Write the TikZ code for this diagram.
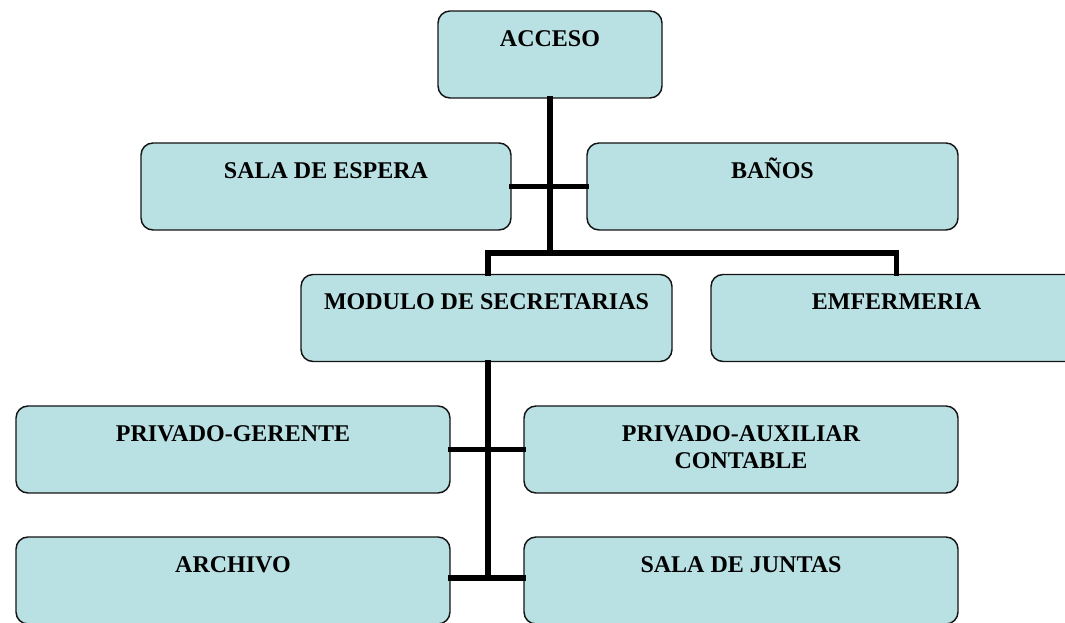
\documentclass[tikz,border=0pt]{standalone}
\usepackage{fontspec}
\setmainfont{Liberation Serif}
\definecolor{boxfill}{RGB}{185,224,227}
\definecolor{boxline}{RGB}{20,20,20}
\begin{document}
\begin{tikzpicture}[x=0.75pt,y=-0.75pt,
  box/.style={draw=boxline,line width=1.1pt,fill=boxfill,rounded corners=9pt,
    minimum height=87*0.75pt,inner sep=0pt},
  lbl/.style={font=\bfseries\fontsize{18}{20.25}\selectfont,align=center,anchor=base,inner sep=0pt},
  conn/.style={line width=3.9pt,line cap=rect}]
\useasboundingbox (0,0) rectangle (1065,623);
\begin{scope}
\clip (0,0) rectangle (1065,623);
\node[box,minimum width=224*0.75pt] (acceso) at (550,54.5) {};
\node[box,minimum width=370*0.75pt] (sala) at (326,186.5) {};
\node[box,minimum width=371*0.75pt] (banos) at (772.5,186.5) {};
\node[box,minimum width=371*0.75pt] (modulo) at (486.5,318) {};
\node[box,minimum width=371*0.75pt] (emf) at (896.5,318) {};
\node[box,minimum width=434*0.75pt] (gerente) at (233,449.5) {};
\node[box,minimum width=434*0.75pt] (aux) at (741,449.5) {};
\node[box,minimum width=434*0.75pt] (archivo) at (233,580.5) {};
\node[box,minimum width=434*0.75pt] (juntas) at (741,580.5) {};
\coordinate (bus) at (550,253);
\coordinate (low) at (488,578);
\draw[conn] (acceso.south) -- (bus);
\draw[conn] (sala.east) -- (banos.west);
\draw[conn] (modulo.north -| low) |- (bus) -| (emf.north);
\draw[conn] (modulo.south -| low) -- (low);
\draw[conn] (gerente.east) -- (aux.west);
\draw[conn] (archivo.east |- low) -- (juntas.west |- low);
\node[lbl] (tacceso) at ([yshift=-36*0.75pt]acceso.north) {ACCESO};
\node[lbl] (tsala) at ([yshift=-36*0.75pt]sala.north) {SALA DE ESPERA};
\node[lbl] (tbanos) at ([yshift=-36*0.75pt]banos.north) {BAÑOS};
\node[lbl] (tmodulo) at ([yshift=-36*0.75pt]modulo.north) {MODULO DE SECRETARIAS};
\node[lbl] (temf) at ([yshift=-36*0.75pt]emf.north) {EMFERMERIA};
\node[lbl] (tgerente) at ([yshift=-36*0.75pt]gerente.north) {PRIVADO-GERENTE};
\node[lbl] (taux) at ([yshift=-63*0.75pt]aux.north) {PRIVADO-AUXILIAR\\CONTABLE};
\node[lbl] (tarchivo) at ([yshift=-36*0.75pt]archivo.north) {ARCHIVO};
\node[lbl] (tjuntas) at ([yshift=-36*0.75pt]juntas.north) {SALA DE JUNTAS};
\end{scope}
\end{tikzpicture}
\end{document}
